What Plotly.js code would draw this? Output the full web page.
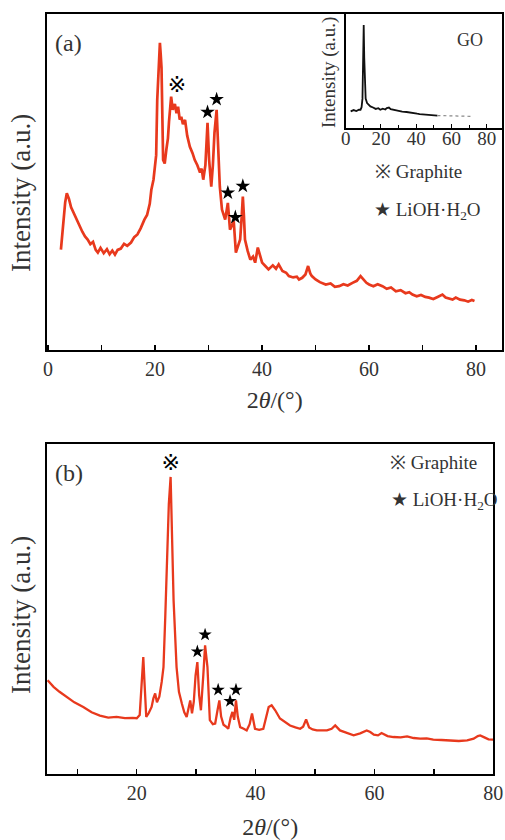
<!DOCTYPE html>
<html>
<head>
<meta charset="utf-8">
<script src="https://cdn.plot.ly/plotly-3.0.1.min.js"></script>
<style>html,body{margin:0;padding:0;background:#fff;}#chart{width:505px;height:840px;}</style>
</head>
<body>
<div id="chart"></div>
<script>
// ---------- Panel (a): XRD pattern (red) ----------
const xA = [2.4, 2.8, 3.2, 3.5, 3.9, 4.3, 4.9, 5.4, 5.9, 6.4, 6.9, 7.4, 7.9, 8.4, 8.9, 9.3, 9.8, 10.4, 11.0, 11.5, 12.0, 12.5, 13.0, 13.6, 14.2, 14.8, 15.5, 16.1, 16.7, 17.3, 18.0, 18.5, 19.0, 19.3, 19.7, 20.0, 20.2, 20.4, 20.6, 20.8, 20.9, 21.05, 21.2, 21.5, 21.8, 22.1, 22.4, 22.6, 22.8, 23.0, 23.3, 23.7, 24.0, 24.3, 24.6, 24.9, 25.2, 25.6, 26.0, 26.5, 27.0, 27.4, 27.9, 28.4, 28.7, 29.0, 29.4, 29.8, 30.1, 30.5, 30.8, 31.1, 31.5, 31.8, 32.1, 32.5, 33.1, 33.6, 34.0, 34.4, 34.7, 35.1, 35.5, 35.9, 36.2, 36.4, 36.6, 36.8, 37.3, 37.8, 38.3, 38.7, 39.2, 39.6, 40.0, 40.6, 41.2, 42.0, 42.6, 43.1, 43.8, 44.5, 45.0, 45.8, 46.5, 46.9, 47.5, 48.1, 48.6, 49.0, 49.3, 50.0, 50.8, 51.9, 52.8, 53.6, 54.4, 55.2, 56.0, 56.9, 57.7, 58.4, 59.0, 59.5, 60.0, 60.8, 61.6, 62.5, 63.3, 64.1, 65.0, 65.9, 66.8, 67.5, 68.1, 68.9, 69.7, 70.5, 71.2, 72.0, 72.8, 73.7, 74.3, 75.0, 75.6, 76.2, 77.0, 77.8, 78.5, 79.2, 79.7];
const yA = [29.9, 38, 44, 46.7, 45, 42.5, 40.3, 38.5, 37, 35.2, 33.8, 32.9, 31.5, 32.2, 29.8, 29.0, 30.4, 28.8, 30.0, 28.5, 29.6, 28.4, 29.8, 30.2, 31.6, 31.0, 32.0, 33.6, 34.4, 36.2, 38.8, 40.2, 43.5, 47.7, 50.7, 54.6, 58, 74.5, 82, 90, 91.4, 88, 84, 56.6, 55.5, 59.6, 63, 68, 72.4, 75.4, 71.5, 73.2, 70.5, 72.4, 68.6, 69.4, 67.2, 68.5, 63.8, 60.5, 58.6, 56.6, 55.0, 52.8, 54.0, 50.7, 55, 67.6, 56.6, 48.6, 55, 64.6, 71.5, 59.6, 48.6, 41.8, 38.8, 43.8, 35.8, 37.2, 38.4, 29.0, 31.0, 32.9, 40, 45.7, 40, 32.9, 29.5, 26.9, 27.8, 26.0, 30.5, 28.5, 26.0, 25.0, 24.0, 25.2, 24.2, 25.5, 23.5, 23.0, 22.0, 21.6, 21.8, 21.0, 21.5, 22.5, 25.0, 22.8, 22.0, 21.0, 20.2, 19.5, 19.8, 18.8, 19.0, 19.6, 19.2, 20.0, 20.6, 22.0, 20.8, 20.0, 19.5, 19.0, 19.6, 19.0, 18.2, 18.6, 17.5, 17.8, 16.9, 17.2, 16.5, 16.0, 16.4, 15.8, 15.6, 15.2, 15.8, 16.5, 15.6, 15.4, 15.0, 15.6, 15.0, 14.8, 14.4, 14.9, 14.6];

const starAx = [29.8, 31.5, 33.6, 35.0, 36.4];
const starAy = [70.8, 74.6, 46.8, 39.5, 48.8];
const graphAx = [24.1];
const graphAy = [78.5];

// ---------- Inset: GO pattern (black) ----------
const xGO = [2.8, 4.5, 6.0, 7.5, 8.4, 9.0, 9.5, 9.9, 10.2, 10.5, 10.9, 11.3, 12.1, 13.0, 14.0, 15.5, 17.0, 18.5, 19.6, 21.0, 22.5, 23.3, 24.5, 25.5, 27.0, 28.5, 30.0, 32.0, 34.5, 36.5, 38.5, 40.5, 41.9, 44.0, 46.0, 48.0, 50.0, 52.0];
const yGO = [14.8, 16.0, 15.2, 16.4, 16.3, 18.5, 26, 50, 90.4, 62, 36, 26, 22.1, 20.5, 19.2, 18.2, 17.0, 17.6, 16.3, 17.2, 16.5, 17.8, 18.2, 16.8, 16.3, 15.6, 15.4, 14.6, 14.3, 13.6, 13.0, 12.8, 12.5, 12.1, 11.8, 11.5, 11.3, 11.2];
const xGOtail = [52.0, 56.8, 60.5, 64.2, 67.5, 71.5];
const yGOtail = [11.2, 11.1, 10.9, 10.8, 10.6, 10.5];

// ---------- Panel (b): XRD pattern (red) ----------
const xB = [5.0, 6.0, 7.0, 8.2, 9.5, 11.0, 12.4, 13.8, 15.2, 16.6, 18.0, 19.3, 20.0, 20.5, 20.8, 21.1, 21.3, 21.6, 22.0, 22.5, 22.8, 23.1, 23.4, 23.8, 24.2, 24.5, 24.8, 25.1, 25.4, 25.7, 26.0, 26.2, 26.7, 27.1, 27.6, 28.0, 28.4, 28.7, 29.0, 29.3, 29.6, 29.9, 30.2, 30.5, 30.8, 31.2, 31.5, 31.9, 32.3, 32.8, 33.2, 33.6, 33.9, 34.2, 34.6, 35.0, 35.4, 35.8, 36.1, 36.4, 36.7, 37.0, 37.4, 38.0, 38.5, 39.0, 39.4, 39.9, 40.6, 41.3, 41.8, 42.2, 42.7, 43.3, 44.1, 45.0, 45.8, 46.7, 47.5, 48.0, 48.5, 49.0, 49.6, 50.3, 51.2, 52.0, 52.8, 53.4, 54.2, 55.3, 56.5, 57.6, 58.7, 59.3, 59.9, 60.6, 61.2, 62.2, 63.2, 64.4, 65.5, 66.6, 67.7, 68.8, 69.9, 71.3, 72.7, 74.2, 75.6, 76.7, 77.4, 77.8, 78.5, 79.2, 80.0];
const yB = [28.5, 26.5, 25.0, 23.4, 21.8, 20.4, 18.8, 17.8, 17.2, 17.4, 17.0, 17.1, 17.0, 18, 28, 35.5, 28, 17.4, 18.5, 20.4, 23, 24.5, 21.8, 23.5, 28, 32.5, 47.7, 66, 82, 90.1, 72, 52.7, 32.5, 25, 21.4, 18.8, 17.4, 20.5, 22.4, 18.5, 22, 30, 34.0, 24, 19.4, 30, 39.1, 32.5, 16.4, 15.2, 15.4, 19.5, 22.4, 17.5, 15.0, 14.5, 13.8, 17.2, 18.9, 16.5, 22.4, 17.5, 14.3, 13.8, 13.3, 15.2, 18.4, 13.8, 13.5, 13.8, 17.0, 20.4, 20.9, 19.4, 16.9, 15.8, 14.8, 14.2, 13.8, 14.4, 16.6, 14.2, 13.6, 13.3, 13.4, 13.3, 13.8, 14.8, 13.3, 12.6, 11.8, 12.4, 13.3, 12.8, 12.0, 11.8, 12.5, 11.6, 11.3, 11.2, 11.5, 11.0, 10.8, 10.9, 10.5, 10.4, 10.3, 10.1, 10.3, 10.8, 11.6, 11.8, 11.2, 10.6, 10.5];

const starBx = [30.2, 31.5, 33.7, 35.7, 36.7];
const starBy = [37.2, 42.3, 25.6, 22.2, 25.6];
const graphBx = [25.7];
const graphBy = [94.0];

// ---------- Tick labels ----------
const ticksA = [0, 20, 40, 60, 80];
const ticksB = [20, 40, 60, 80];
const ticksInset = [0, 20, 40, 60, 80];

const RED = '#e8391d';
const SERIF = 'Liberation Serif';
const TXT = '#333333';

const traces = [
  {x: xA, y: yA, xaxis: 'x', yaxis: 'y', mode: 'lines', line: {color: RED, width: 2.7}},
  {x: starAx, y: starAy, xaxis: 'x', yaxis: 'y', mode: 'markers', marker: {symbol: 'star', size: 11, color: '#000'}},
  {x: graphAx, y: graphAy, xaxis: 'x', yaxis: 'y', mode: 'text', text: ['※'], textfont: {size: 22, color: '#000', family: 'DejaVu Sans'}},
  {x: xGO, y: yGO, xaxis: 'x3', yaxis: 'y3', mode: 'lines', line: {color: '#111', width: 1.8}},
  {x: xGOtail, y: yGOtail, xaxis: 'x3', yaxis: 'y3', mode: 'lines', line: {color: '#888', width: 1.2, dash: 'dot'}},
  {x: xB, y: yB, xaxis: 'x2', yaxis: 'y2', mode: 'lines', line: {color: RED, width: 2.3}},
  {x: starBx, y: starBy, xaxis: 'x2', yaxis: 'y2', mode: 'markers', marker: {symbol: 'star', size: 10, color: '#000'}},
  {x: graphBx, y: graphBy, xaxis: 'x2', yaxis: 'y2', mode: 'text', text: ['※'], textfont: {size: 22, color: '#000', family: 'DejaVu Sans'}}
];

const frameX = {
  showline: true, mirror: true, linecolor: '#000', linewidth: 2,
  ticks: 'inside', ticklen: 5, tickcolor: '#000', tickwidth: 1.5,
  minor: {dtick: 10, ticks: 'inside', ticklen: 5, tickcolor: '#000', tickwidth: 1.5},
  showgrid: false, zeroline: false,
  tickfont: {family: SERIF, size: 20, color: TXT},
  ticklabelstandoff: 0
};
const frameY = {
  showline: true, mirror: true, linecolor: '#000', linewidth: 2,
  ticks: '', showticklabels: false, showgrid: false, zeroline: false
};

const layout = {
  width: 505, height: 840,
  margin: {l: 0, r: 0, t: 0, b: 0},
  paper_bgcolor: '#fff', plot_bgcolor: 'rgba(0,0,0,0)',
  showlegend: false,
  font: {family: SERIF, color: TXT},
  xaxis: Object.assign({}, frameX, {
    domain: [0.0931, 0.9947], range: [-0.2, 84.9], anchor: 'y',
    tickvals: ticksA, ticktext: ticksA.map(String),
    title: {text: '2<i>θ</i>/(°)', font: {family: SERIF, size: 24, color: TXT}, standoff: 12}
  }),
  yaxis: Object.assign({}, frameY, {domain: [0.5833, 0.9833], range: [0, 100], anchor: 'x'}),
  xaxis2: Object.assign({}, frameX, {
    domain: [0.0931, 0.9768], range: [4.9, 80], anchor: 'y2',
    tickvals: ticksB, ticktext: ticksB.map(String),
    title: {text: '2<i>θ</i>/(°)', font: {family: SERIF, size: 24, color: TXT}, standoff: 16}
  }),
  yaxis2: Object.assign({}, frameY, {domain: [0.0782, 0.4711], range: [0, 100], anchor: 'x2'}),
  xaxis3: {
    domain: [0.6846, 0.9947], range: [0, 88.8], anchor: 'y3',
    showline: true, mirror: false, linecolor: '#000', linewidth: 1.5,
    ticks: 'inside', ticklen: 4, tickcolor: '#000', tickwidth: 1,
    minor: {dtick: 10, ticks: 'inside', ticklen: 3, tickcolor: '#000', tickwidth: 1},
    tickvals: ticksInset, ticktext: ticksInset.map(String),
    tickfont: {family: SERIF, size: 19, color: TXT}, ticklabelstandoff: -8,
    showgrid: false, zeroline: false
  },
  yaxis3: {
    domain: [0.8472, 0.9833], range: [0, 100], anchor: 'x3',
    showline: true, mirror: false, linecolor: '#000', linewidth: 1.5,
    ticks: '', showticklabels: false, showgrid: false, zeroline: false
  },
  annotations: [
    {xref: 'paper', yref: 'paper', x: 21 / 505, y: 1 - 193 / 840, text: 'Intensity (a.u.)', textangle: -90, showarrow: false, font: {family: SERIF, size: 27, color: TXT}, xanchor: 'center', yanchor: 'middle'},
    {xref: 'paper', yref: 'paper', x: 21 / 505, y: 1 - 615 / 840, text: 'Intensity (a.u.)', textangle: -90, showarrow: false, font: {family: SERIF, size: 27, color: TXT}, xanchor: 'center', yanchor: 'middle'},
    {xref: 'paper', yref: 'paper', x: 329 / 505, y: 1 - 73 / 840, text: 'Intensity (a.u.)', textangle: -90, showarrow: false, font: {family: SERIF, size: 19, color: TXT}, xanchor: 'center', yanchor: 'middle'},
    {xref: 'paper', yref: 'paper', x: 68 / 505, y: 1 - 43 / 840, text: '(a)', showarrow: false, font: {family: SERIF, size: 24, color: TXT}, xanchor: 'center', yanchor: 'middle'},
    {xref: 'paper', yref: 'paper', x: 69 / 505, y: 1 - 473 / 840, text: '(b)', showarrow: false, font: {family: SERIF, size: 24, color: TXT}, xanchor: 'center', yanchor: 'middle'},
    {xref: 'paper', yref: 'paper', x: 470 / 505, y: 1 - 40 / 840, text: 'GO', showarrow: false, font: {family: SERIF, size: 18, color: TXT}, xanchor: 'center', yanchor: 'middle'},
    {xref: 'paper', yref: 'paper', x: 373 / 505, y: 1 - 172 / 840, text: '※ Graphite', showarrow: false, font: {family: SERIF, size: 19, color: TXT}, xanchor: 'left', yanchor: 'middle'},
    {xref: 'paper', yref: 'paper', x: 372 / 505, y: 1 - 211 / 840, text: '★ LiOH·H<sub>2</sub>O', showarrow: false, font: {family: SERIF, size: 19, color: TXT}, xanchor: 'left', yanchor: 'middle'},
    {xref: 'paper', yref: 'paper', x: 388 / 505, y: 1 - 462 / 840, text: '※ Graphite', showarrow: false, font: {family: SERIF, size: 19, color: TXT}, xanchor: 'left', yanchor: 'middle'},
    {xref: 'paper', yref: 'paper', x: 389 / 505, y: 1 - 501 / 840, text: '★ LiOH·H<sub>2</sub>O', showarrow: false, font: {family: SERIF, size: 19, color: TXT}, xanchor: 'left', yanchor: 'middle'}
  ]
};

Plotly.newPlot('chart', traces, layout, {staticPlot: true, displayModeBar: false});
</script>
</body>
</html>
